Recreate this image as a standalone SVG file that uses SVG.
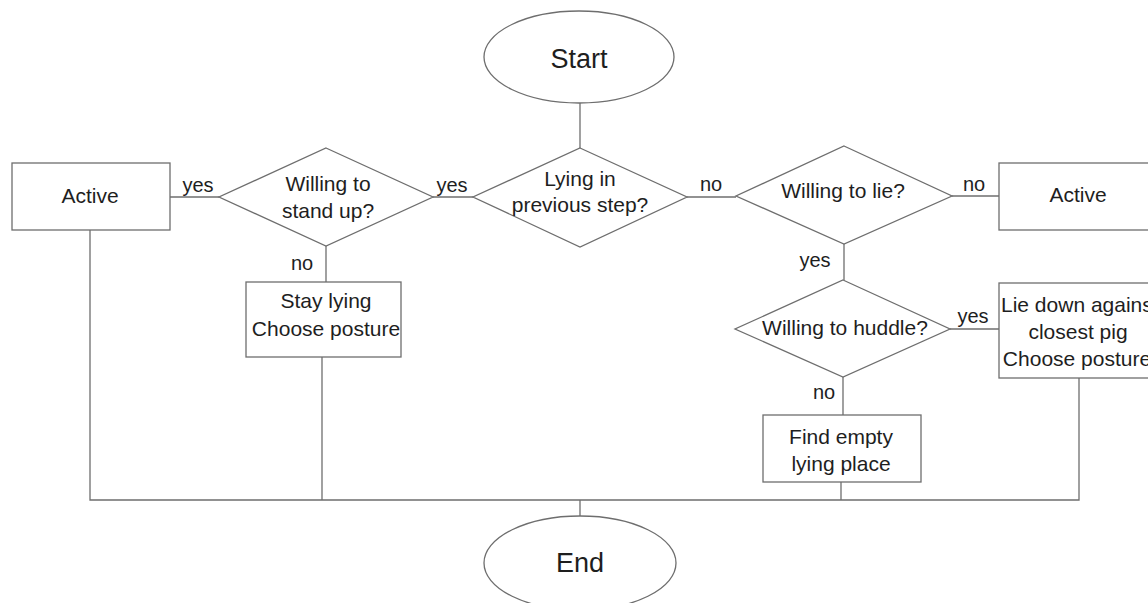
<svg xmlns="http://www.w3.org/2000/svg" width="1148" height="603" viewBox="0 0 1148 603">
<style>
.shape{fill:#ffffff;stroke:#6e6e6e;stroke-width:1.3}
.conn{fill:none;stroke:#6e6e6e;stroke-width:1.3}
text{font-family:"Liberation Sans",Arial,sans-serif;fill:#1e1e1e;text-anchor:middle}
.t{font-size:21px}
.big{font-size:27px}
.lbl{font-size:20px}
</style>
<rect width="1148" height="603" fill="#ffffff"/>
<g id="connectors">
<line class="conn" x1="580" y1="103" x2="580" y2="148"/>
<line class="conn" x1="433" y1="197" x2="473" y2="197"/>
<line class="conn" x1="170" y1="197" x2="219" y2="197"/>
<line class="conn" x1="687" y1="197" x2="736" y2="197"/>
<line class="conn" x1="952" y1="196" x2="999" y2="196"/>
<line class="conn" x1="326" y1="246" x2="326" y2="282"/>
<line class="conn" x1="844" y1="244" x2="844" y2="280"/>
<line class="conn" x1="950" y1="329" x2="999" y2="329"/>
<line class="conn" x1="843" y1="377" x2="843" y2="415"/>
<polyline class="conn" points="90,230 90,500 1079,500 1079,378"/>
<line class="conn" x1="322" y1="357" x2="322" y2="500"/>
<line class="conn" x1="841" y1="482" x2="841" y2="500"/>
<line class="conn" x1="580" y1="500" x2="580" y2="517"/>
<text class="lbl" x="198" y="192">yes</text>
<text class="lbl" x="452" y="192">yes</text>
<text class="lbl" x="711" y="191">no</text>
<text class="lbl" x="974" y="191">no</text>
<text class="lbl" x="302" y="270">no</text>
<text class="lbl" x="815" y="267">yes</text>
<text class="lbl" x="973" y="323">yes</text>
<text class="lbl" x="824" y="399">no</text>
</g>
<g id="start">
<ellipse class="shape" cx="579" cy="57" rx="95" ry="46"/>
<text class="big" x="579" y="68">Start</text>
</g>
<g id="lying-previous">
<polygon class="shape" points="580,148 687,197 580,247 473,197"/>
<text class="t" x="580" y="186">Lying in</text>
<text class="t" x="580" y="212">previous step?</text>
</g>
<g id="willing-stand">
<polygon class="shape" points="326,148 433,197 326,246 219,197"/>
<text class="t" x="328" y="191">Willing to</text>
<text class="t" x="328" y="218">stand up?</text>
</g>
<g id="active-left">
<rect class="shape" x="12" y="163" width="158" height="67"/>
<text class="t" x="90" y="203">Active</text>
</g>
<g id="stay-lying">
<rect class="shape" x="246" y="282" width="155" height="75"/>
<text class="t" x="326" y="308">Stay lying</text>
<text class="t" x="326" y="336">Choose posture</text>
</g>
<g id="willing-lie">
<polygon class="shape" points="844,146 952,196 844,244 736,196"/>
<text class="t" x="843" y="198">Willing to lie?</text>
</g>
<g id="active-right">
<rect class="shape" x="999" y="163" width="170" height="67"/>
<text class="t" x="1078" y="202">Active</text>
</g>
<g id="willing-huddle">
<polygon class="shape" points="843,280 950,329 843,377 735,329"/>
<text class="t" x="845" y="335">Willing to huddle?</text>
</g>
<g id="lie-down">
<rect class="shape" x="999" y="283" width="170" height="95"/>
<text class="t" x="1001" y="312" style="text-anchor:start">Lie down against</text>
<text class="t" x="1078" y="339">closest pig</text>
<text class="t" x="1077" y="366">Choose posture</text>
</g>
<g id="find-empty">
<rect class="shape" x="763" y="415" width="158" height="67"/>
<text class="t" x="841" y="444">Find empty</text>
<text class="t" x="841" y="471">lying place</text>
</g>
<g id="end">
<ellipse class="shape" cx="580" cy="563" rx="96" ry="47"/>
<text class="big" x="580" y="572">End</text>
</g>
</svg>
